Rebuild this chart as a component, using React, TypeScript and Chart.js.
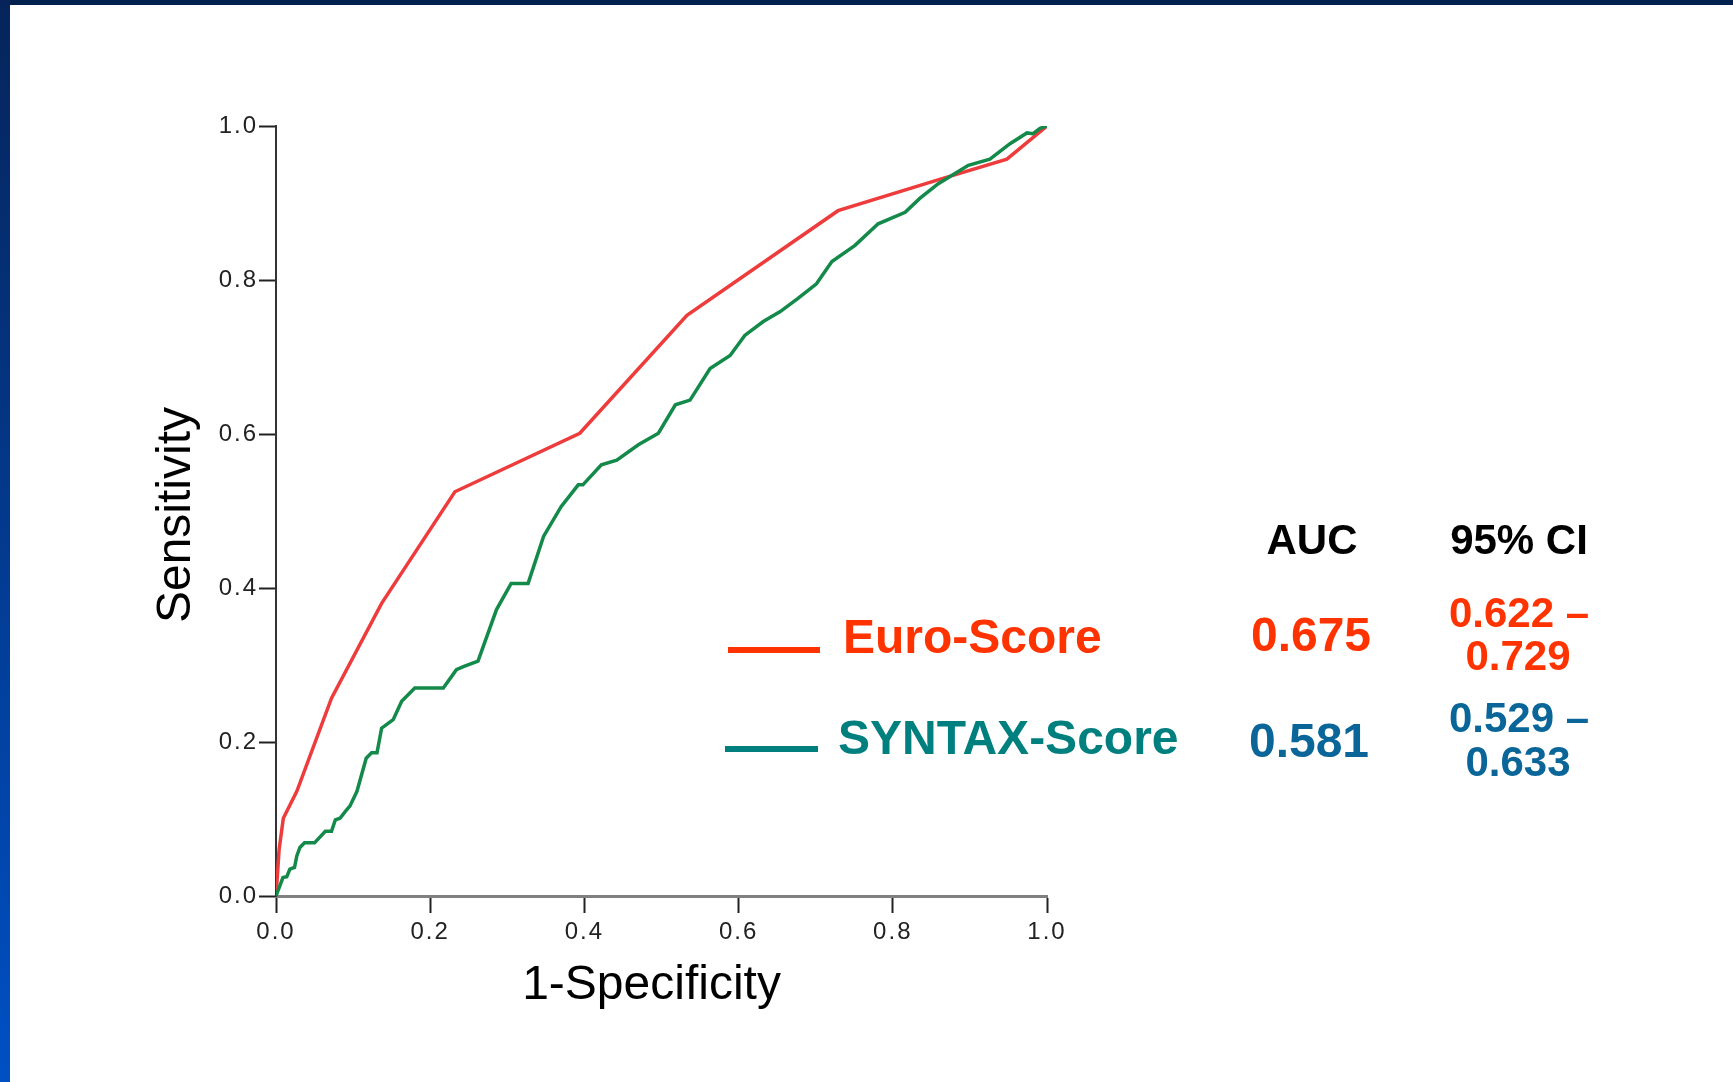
import React, { useEffect, useRef } from "react";
import { Chart, registerables } from "chart.js";

Chart.register(...registerables);

// ---------- data ----------
const euroFpr = [0, 0.004, 0.0095, 0.027, 0.072, 0.137, 0.232, 0.394, 0.533, 0.729, 0.865, 0.948, 1];
const euroTpr = [0, 0.06, 0.101, 0.136, 0.257, 0.38, 0.525, 0.601, 0.754, 0.89, 0.932, 0.957, 1];

const syntaxFpr = [
  0, 0.009, 0.014, 0.018, 0.024, 0.027, 0.031, 0.037, 0.05, 0.064, 0.072, 0.077, 0.083, 0.09, 0.096,
  0.105, 0.117, 0.124, 0.131, 0.137, 0.152, 0.163, 0.18, 0.217, 0.234, 0.243, 0.262, 0.286, 0.305,
  0.327, 0.347, 0.37, 0.392, 0.398, 0.422, 0.442, 0.47, 0.496, 0.518, 0.537, 0.563, 0.589, 0.608,
  0.632, 0.654, 0.677, 0.701, 0.721, 0.751, 0.781, 0.816, 0.835, 0.859, 0.898, 0.926, 0.952, 0.974,
  0.982, 0.991, 1,
];
const syntaxTpr = [
  0, 0.024, 0.025, 0.035, 0.037, 0.052, 0.063, 0.069, 0.069, 0.084, 0.084, 0.099, 0.101, 0.11, 0.117,
  0.136, 0.179, 0.186, 0.186, 0.218, 0.229, 0.253, 0.27, 0.27, 0.294, 0.298, 0.305, 0.372, 0.406,
  0.406, 0.467, 0.506, 0.534, 0.534, 0.56, 0.566, 0.586, 0.601, 0.638, 0.644, 0.685, 0.702, 0.728,
  0.746, 0.759, 0.776, 0.795, 0.824, 0.845, 0.873, 0.888, 0.906, 0.925, 0.949, 0.957, 0.977, 0.991,
  0.99, 0.997, 1,
];

const axisTicks = [0, 0.2, 0.4, 0.6, 0.8, 1.0];
const seriesNames = ["Euro-Score", "SYNTAX-Score"];
const aucValues = ["0.675", "0.581"];
const ciLow = ["0.622", "0.529"];
const ciHigh = ["0.729", "0.633"];
const xTitle = "1-Specificity";
const yTitle = "Sensitivity";
const tableHeaders = ["AUC", "95% CI"];

// ---------- style ----------
const FAMILY = '"Liberation Sans", Arial, Helvetica, sans-serif';
const curveColors = ["#ee3b3b", "#13894a"];
const legendColors = ["#ff3300", "#007f7f"];
const valueColors = ["#ff3300", "#0a6699"];

const toPoints = (xs: number[], ys: number[]) => xs.map((x, i) => ({ x, y: ys[i] }));

const axisTitlePlugin = {
  id: "axisTitles",
  beforeDraw(chart: any) {
    (chart.ctx as any).letterSpacing = "2px";
  },
  beforeDatasetsDraw(chart: any) {
    (chart.ctx as any).letterSpacing = "0px";
  },
  afterDraw(chart: any) {
    const ctx = chart.ctx;
    const a = chart.chartArea;
    ctx.save();
    (ctx as any).letterSpacing = "0px";
    ctx.fillStyle = "#000";
    ctx.font = `48px ${FAMILY}`;
    ctx.textAlign = "center";
    ctx.textBaseline = "alphabetic";
    ctx.fillText(xTitle, (a.left + a.right) / 2 - 10, a.bottom + 103);
    ctx.translate(a.left - 86, (a.top + a.bottom) / 2 + 4);
    ctx.rotate(-Math.PI / 2);
    ctx.fillText(yTitle, 0, 0);
    ctx.restore();
  },
};

// text placed by baseline (line-height 1 => baseline ~ top + 0.8465 * size)
function BText(props: {
  text: string;
  size: number;
  color: string;
  baseline: number;
  left?: number;
  center?: number;
}) {
  const { text, size, color, baseline, left, center } = props;
  const top = baseline - 0.8465 * size;
  const style: React.CSSProperties = {
    position: "absolute",
    top,
    fontFamily: FAMILY,
    fontWeight: "bold",
    fontSize: size,
    lineHeight: 1,
    color,
    whiteSpace: "nowrap",
  };
  if (center !== undefined) {
    style.left = center - 200;
    style.width = 400;
    style.textAlign = "center";
  } else {
    style.left = left;
  }
  return <div style={style}>{text}</div>;
}

export default function App() {
  const canvasRef = useRef<HTMLCanvasElement | null>(null);

  useEffect(() => {
    if (!canvasRef.current) return;
    const chart = new Chart(canvasRef.current, {
      type: "scatter",
      data: {
        datasets: [
          {
            label: seriesNames[0],
            data: toPoints(euroFpr, euroTpr),
            showLine: true,
            borderColor: curveColors[0],
            backgroundColor: curveColors[0],
            borderWidth: 3.5,
            pointRadius: 0,
            tension: 0,
            order: 1,
          },
          {
            label: seriesNames[1],
            data: toPoints(syntaxFpr, syntaxTpr),
            showLine: true,
            borderColor: curveColors[1],
            backgroundColor: curveColors[1],
            borderWidth: 3.5,
            pointRadius: 0,
            tension: 0,
            order: 0,
          },
        ],
      },
      options: {
        animation: false,
        responsive: false,
        maintainAspectRatio: false,
        layout: { padding: { left: 120, top: 126, right: 686, bottom: 66 } },
        plugins: { legend: { display: false }, tooltip: { enabled: false } },
        scales: {
          x: {
            type: "linear",
            min: 0,
            max: 1,
            afterBuildTicks: (s: any) => {
              s.ticks = axisTicks.map((v) => ({ value: v }));
            },
            afterFit: (s: any) => {
              s.height = 120;
            },
            ticks: {
              font: { size: 24, family: FAMILY },
              color: "#222",
              padding: 5,
              maxRotation: 0,
              autoSkip: false,
              callback: (v: any) => Number(v).toFixed(1),
            },
            grid: {
              drawOnChartArea: false,
              drawTicks: true,
              tickLength: 17,
              tickColor: "#222",
              tickWidth: 2,
            },
            border: { display: true, color: "#808080", width: 3 },
          },
          y: {
            type: "linear",
            min: 0,
            max: 1,
            afterBuildTicks: (s: any) => {
              s.ticks = axisTicks.map((v) => ({ value: v }));
            },
            afterFit: (s: any) => {
              s.width = 156;
            },
            ticks: {
              font: { size: 24, family: FAMILY },
              color: "#222",
              padding: 1,
              autoSkip: false,
              callback: (v: any) => Number(v).toFixed(1),
            },
            grid: {
              drawOnChartArea: false,
              drawTicks: true,
              tickLength: 17,
              tickColor: "#222",
              tickWidth: 2,
            },
            border: { display: true, color: "#333", width: 2 },
          },
        },
      },
      plugins: [axisTitlePlugin],
    } as any);
    return () => chart.destroy();
  }, []);

  return (
    <div
      style={{
        position: "absolute",
        left: 0,
        top: 0,
        width: 1733,
        height: 1082,
        background: "#fff",
        overflow: "hidden",
      }}
    >
      <canvas
        ref={canvasRef}
        width={1733}
        height={1082}
        style={{ position: "absolute", left: 0, top: 0, width: 1733, height: 1082 }}
      />
      <div style={{ position: "absolute", left: 0, top: 0, width: 1733, height: 5, background: "#00204f" }} />
      <div
        style={{
          position: "absolute",
          left: 0,
          top: 0,
          width: 10,
          height: 1082,
          background: "linear-gradient(#06245a, #0050c4)",
        }}
      />
      {/* legend */}
      <div style={{ position: "absolute", left: 728, top: 647, width: 92, height: 6, background: legendColors[0] }} />
      <BText text={seriesNames[0]} size={48} color={legendColors[0]} left={843} baseline={654} />
      <div style={{ position: "absolute", left: 725, top: 746, width: 93, height: 6, background: legendColors[1] }} />
      <BText text={seriesNames[1]} size={48} color={legendColors[1]} left={838} baseline={755} />
      {/* table */}
      <BText text={tableHeaders[0]} size={42} color="#000" center={1312} baseline={555} />
      <BText text={tableHeaders[1]} size={42} color="#000" center={1519} baseline={555} />
      <BText text={aucValues[0]} size={48} color={valueColors[0]} center={1311} baseline={652} />
      <BText text={`${ciLow[0]} \u2013`} size={42} color={valueColors[0]} center={1519} baseline={628} />
      <BText text={ciHigh[0]} size={42} color={valueColors[0]} center={1518} baseline={671} />
      <BText text={aucValues[1]} size={48} color={valueColors[1]} center={1309} baseline={758} />
      <BText text={`${ciLow[1]} \u2013`} size={42} color={valueColors[1]} center={1519} baseline={733} />
      <BText text={ciHigh[1]} size={42} color={valueColors[1]} center={1518} baseline={777} />
    </div>
  );
}
